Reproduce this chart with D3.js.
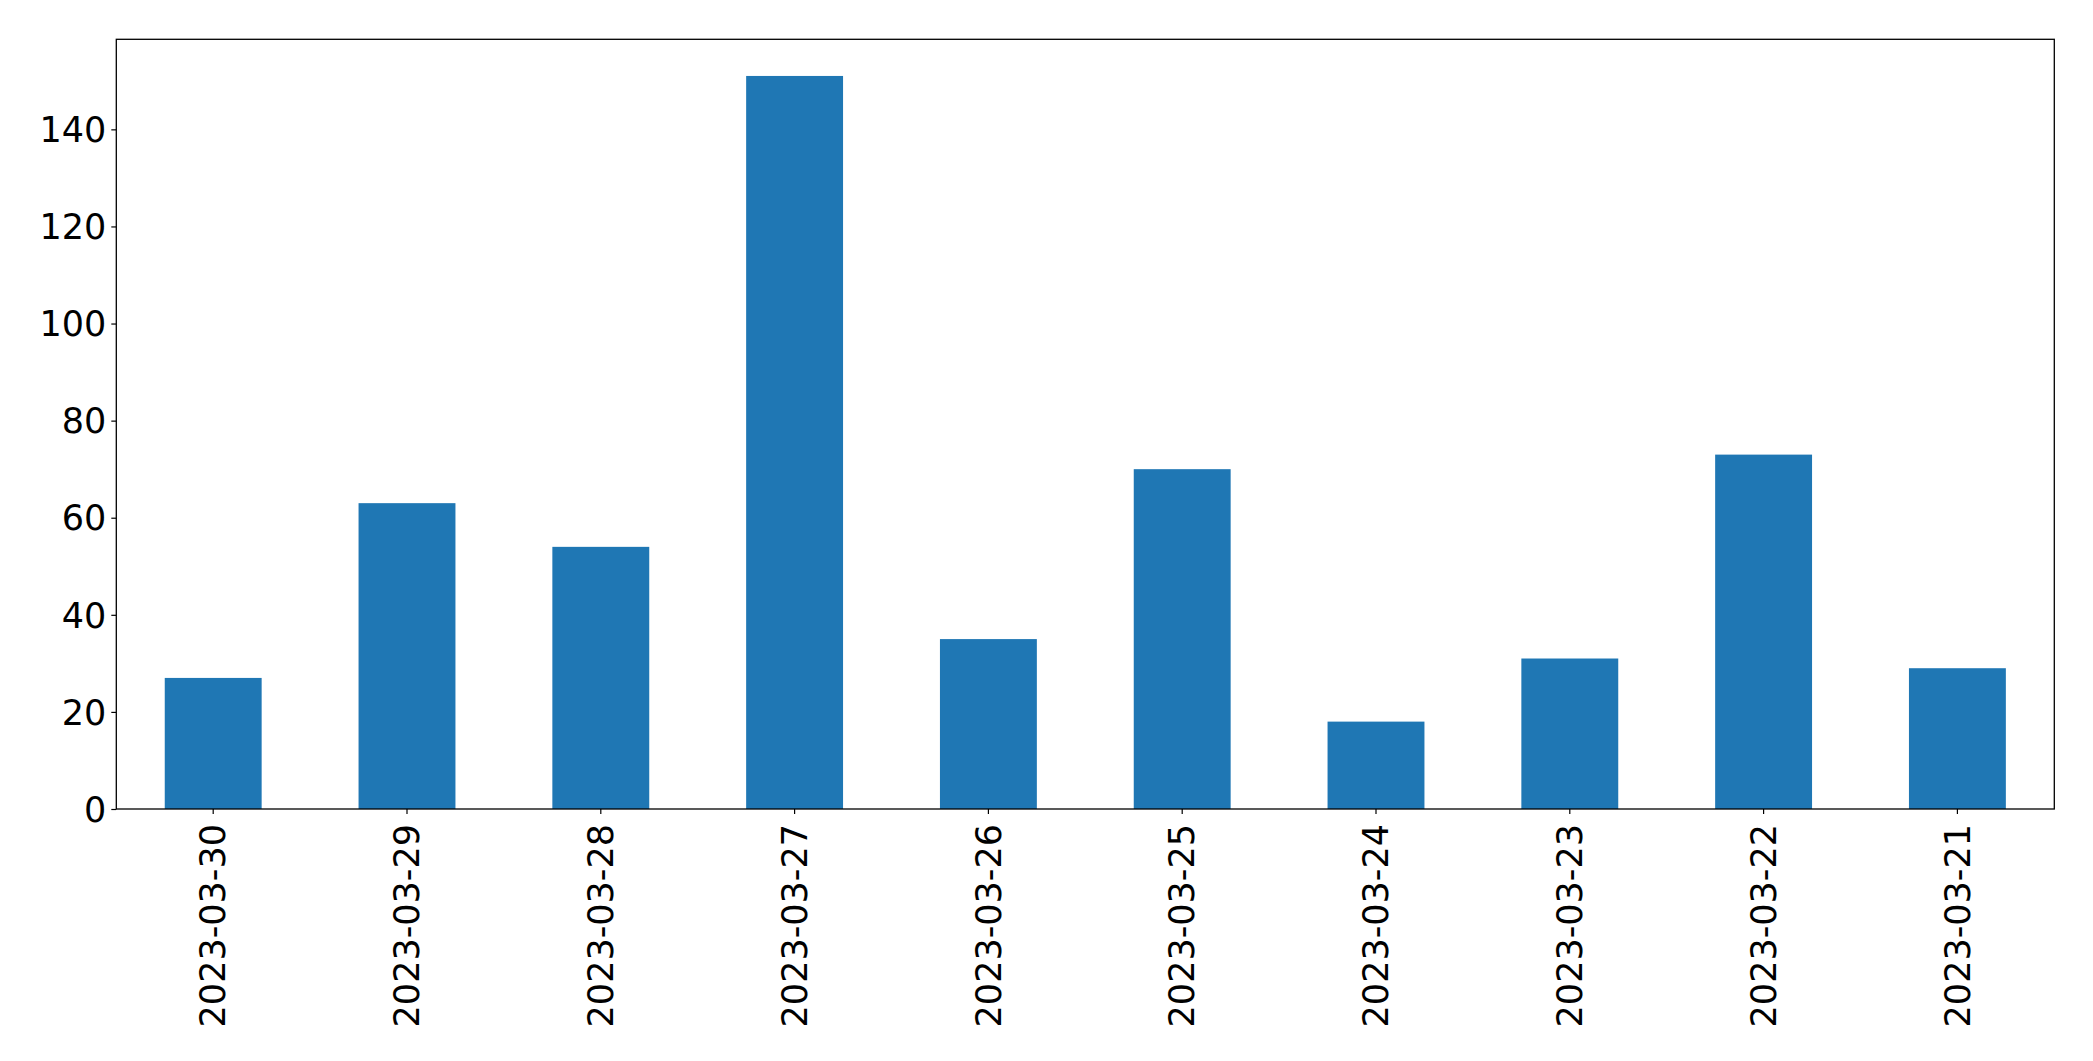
<!DOCTYPE html>
<html><head><meta charset="utf-8">
<script src="https://cdn.jsdelivr.net/npm/d3@7"></script>
<style>body{margin:0;background:#fff}svg{display:block}text{font-family:"DejaVu Sans",sans-serif}</style>
</head><body>
<script>
const categories = ["2023-03-30","2023-03-29","2023-03-28","2023-03-27","2023-03-26","2023-03-25","2023-03-24","2023-03-23","2023-03-22","2023-03-21"];
const values = [27,63,54,151,35,70,18,31,73,29];
const yTicks = [0,20,40,60,80,100,120,140];

const W=2093,H=1061;
const m={left:116.3,right:2054.3,top:39.3,bottom:809};
const svg=d3.select("body").append("svg").attr("width",W).attr("height",H);
const x=d3.scaleBand().domain(categories).range([m.left,m.right]).paddingInner(0.5).paddingOuter(0.25);
const y=d3.scaleLinear().domain([0,d3.max(values)*1.05]).range([m.bottom,m.top]);

svg.append("g").selectAll("rect").data(values).join("rect")
  .attr("x",(d,i)=>x(categories[i])).attr("width",x.bandwidth())
  .attr("y",d=>y(d)).attr("height",d=>y(0)-y(d)).attr("fill","#1f77b4");

const fs=35;
const ya=svg.append("g").attr("transform",`translate(${m.left},0)`)
  .call(d3.axisLeft(y).tickValues(yTicks).tickSize(5).tickPadding(5));
ya.select(".domain").remove();
ya.selectAll("line").attr("stroke","#000").attr("stroke-width",1.2);
ya.selectAll("text").attr("font-size",fs).attr("fill","#000").attr("dy","0.35em");

const xa=svg.append("g").attr("transform",`translate(0,${m.bottom})`)
  .call(d3.axisBottom(x).tickSize(5).tickPadding(0));
xa.select(".domain").remove();
xa.selectAll("line").attr("stroke","#000").attr("stroke-width",1.2);
xa.selectAll("text").attr("font-size",fs).attr("fill","#000")
  .attr("transform","rotate(-90)").attr("text-anchor","end")
  .attr("x",-15).attr("y",0).attr("dy","0.35em");

svg.append("rect").attr("x",m.left).attr("y",m.top).attr("width",m.right-m.left).attr("height",m.bottom-m.top)
  .attr("fill","none").attr("stroke","#000").attr("stroke-width",1.3);
</script>
</body></html>
